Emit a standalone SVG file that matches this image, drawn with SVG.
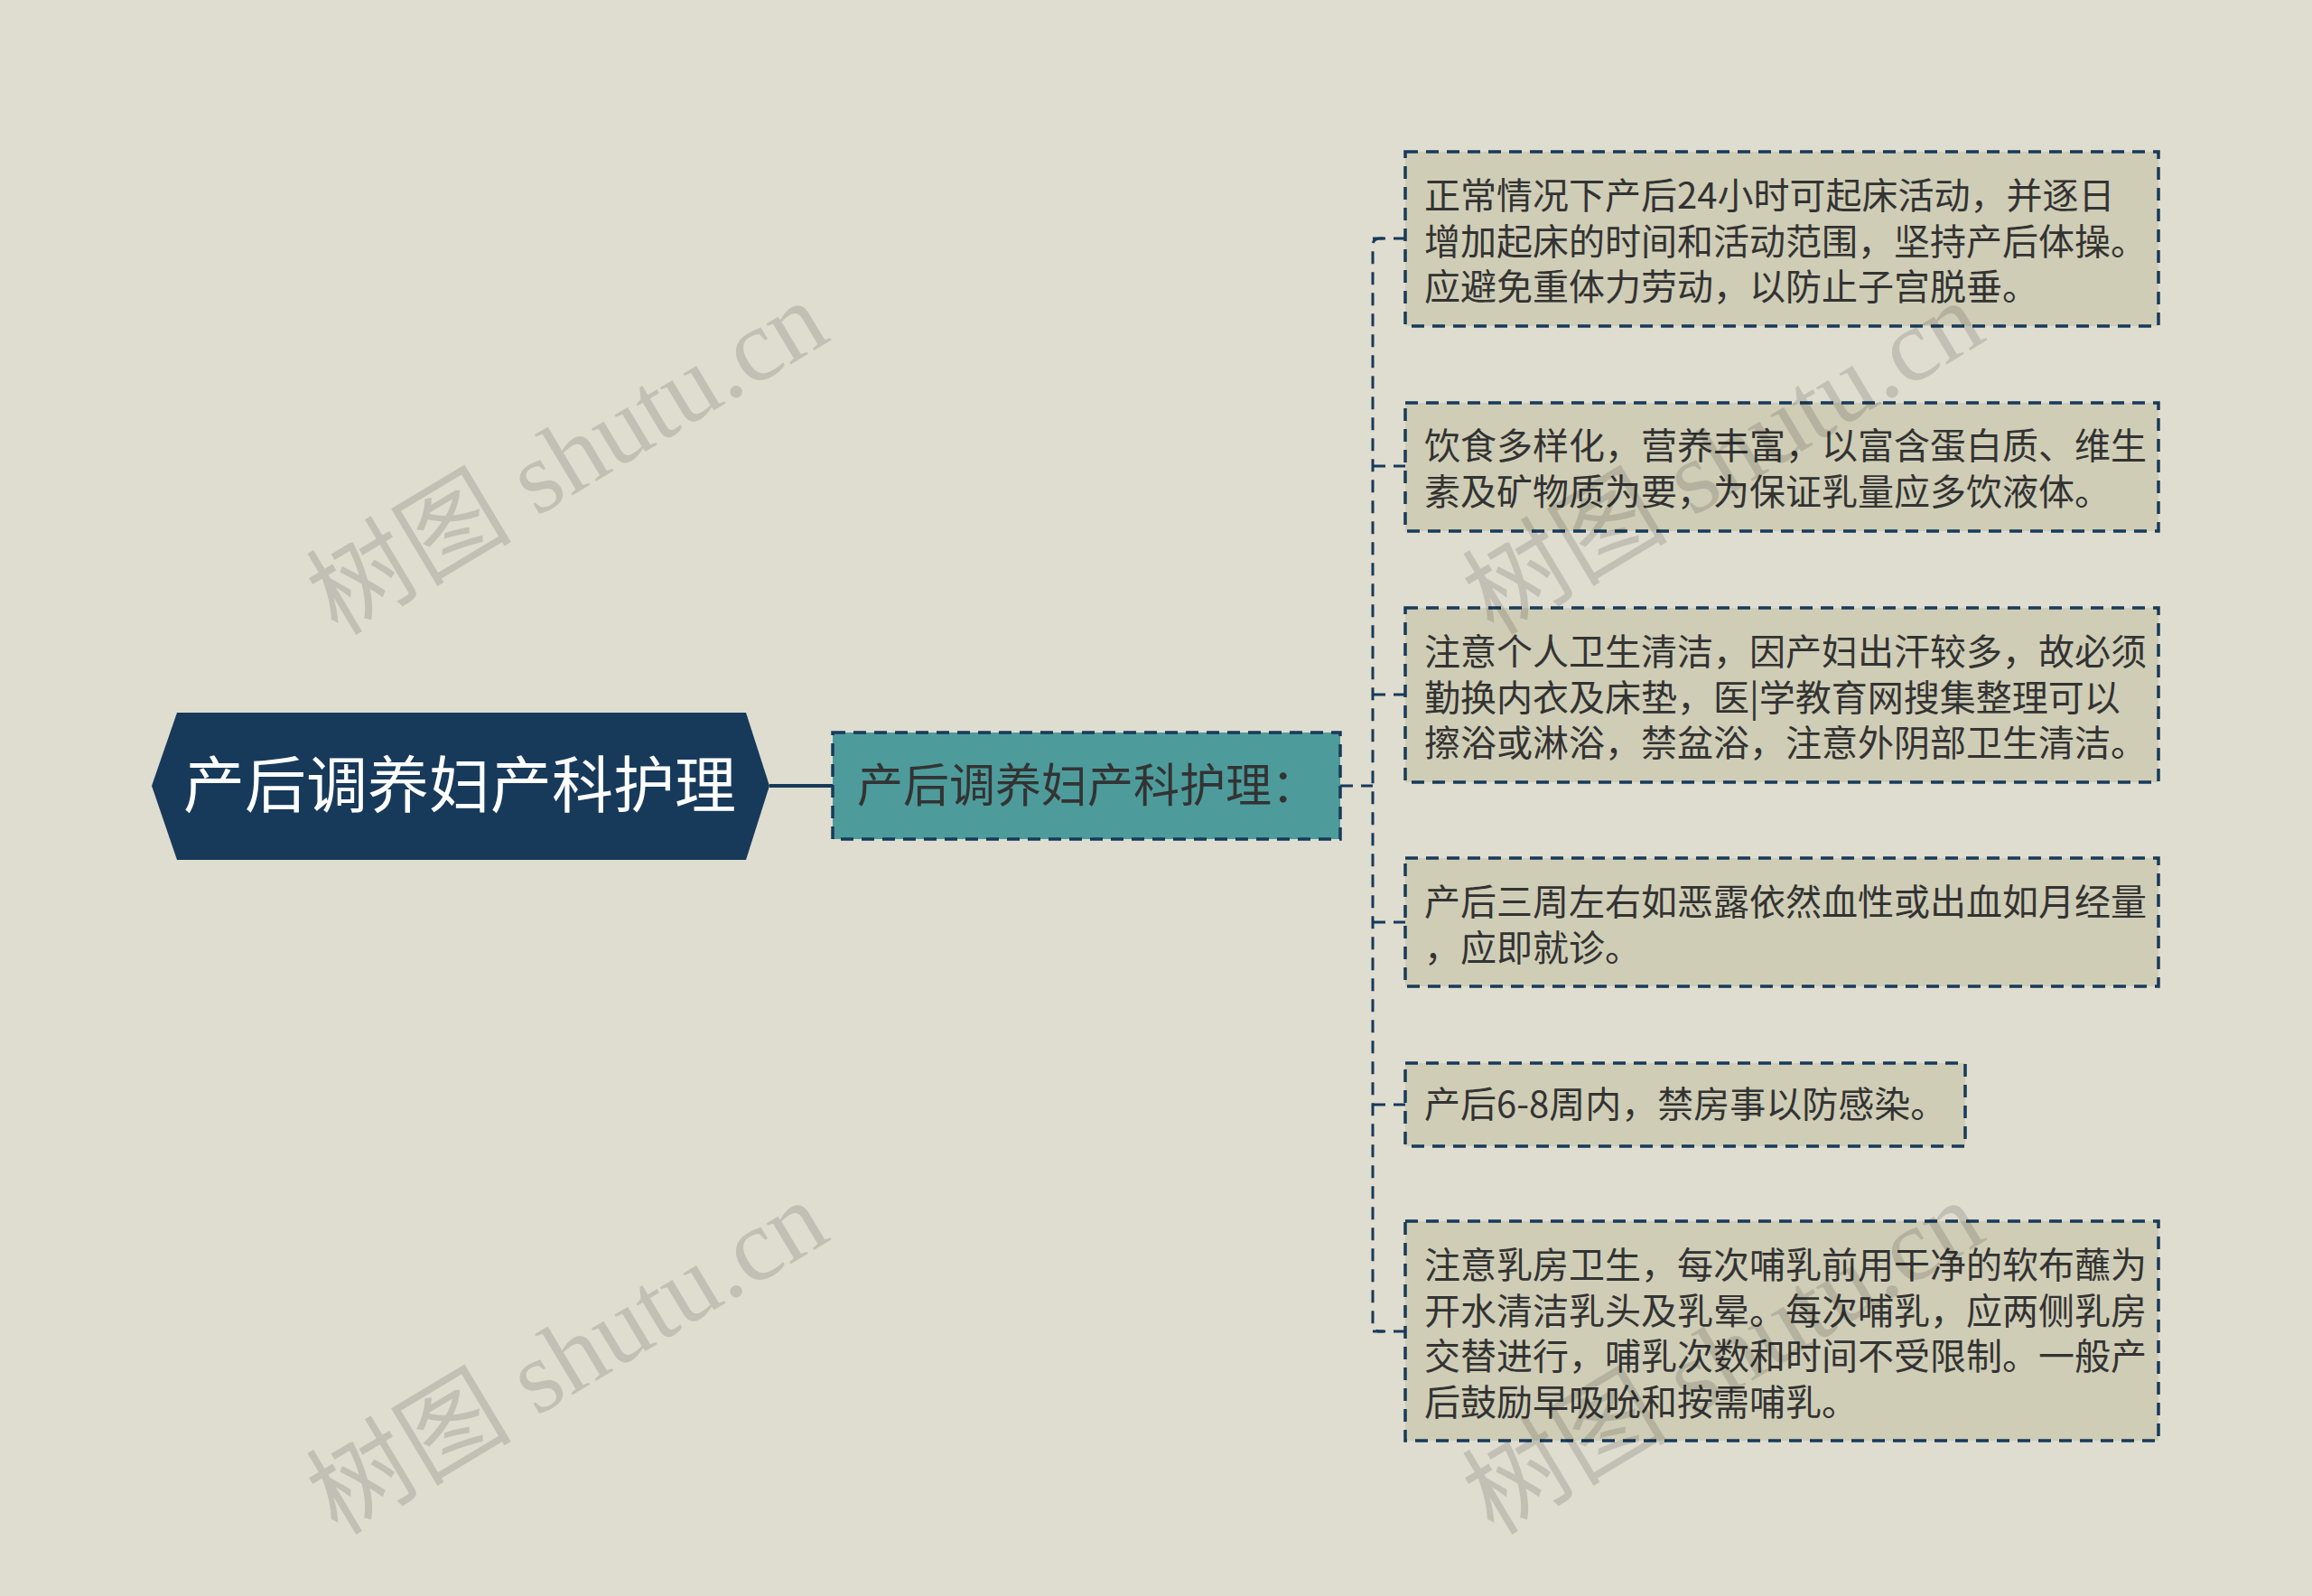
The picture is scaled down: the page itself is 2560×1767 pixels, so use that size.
<svg xmlns="http://www.w3.org/2000/svg" width="2560" height="1767" viewBox="0 0 2560 1767">
<style>
.bg{fill:#dfddcf}
.root{fill:#173a5b}
.rt{font-family:"Noto Sans CJK SC","Noto Sans",sans-serif;font-size:68px;fill:#ffffff}
.sub{fill:#4e9b9b;stroke:#173a5b;stroke-width:3.5;stroke-dasharray:14 9}
.st{font-family:"Noto Sans CJK SC","Noto Sans",sans-serif;font-size:51px;fill:#333333}
.leaf{fill:#cfcdb6;stroke:#173a5b;stroke-width:3.5;stroke-dasharray:14 9}
.lt{font-family:"Noto Sans CJK SC","Noto Sans",sans-serif;font-size:40px;fill:#333333}
.dash{fill:none;stroke:#173a5b;stroke-width:3;stroke-dasharray:14 9}
.solid{fill:none;stroke:#173a5b;stroke-width:4}
.wm{font-family:"Liberation Serif","Noto Sans CJK SC",serif;font-size:114px;fill:#000000;fill-opacity:0.13}
</style>
<rect class="bg" x="0" y="0" width="2560" height="1767"/>
<g id="connectors">
<line class="solid" x1="852" y1="870" x2="922" y2="870"/>
<line class="dash" x1="1484" y1="870" x2="1520" y2="870"/>
<path class="dash" d="M1532 264 H1528 Q1520 264 1520 272 V1466 Q1520 1474 1528 1474 H1532"/>
<line class="dash" x1="1520" y1="264" x2="1556" y2="264"/>
<line class="dash" x1="1520" y1="516" x2="1556" y2="516"/>
<line class="dash" x1="1520" y1="769" x2="1556" y2="769"/>
<line class="dash" x1="1520" y1="1021" x2="1556" y2="1021"/>
<line class="dash" x1="1520" y1="1223" x2="1556" y2="1223"/>
<line class="dash" x1="1520" y1="1474" x2="1556" y2="1474"/>
</g>
<g id="root">
<polygon class="root" points="168,870 196,789 826,789 852,870 826,952 196,952"/>
<text class="rt" x="509" y="894" text-anchor="middle">产后调养妇产科护理</text>
</g>
<g id="sub">
<rect class="sub" x="922" y="811" width="562" height="118"/>
<text class="st" x="949" y="888">产后调养妇产科护理：</text>
</g>
<g id="leaf1">
<rect class="leaf" x="1556" y="168" width="834" height="193"/>
<text class="lt" x="1577" y="231">正常情况下产后24小时可起床活动，并逐日</text>
<text class="lt" x="1577" y="282">增加起床的时间和活动范围，坚持产后体操。</text>
<text class="lt" x="1577" y="332">应避免重体力劳动，以防止子宫脱垂。</text>
</g>
<g id="leaf2">
<rect class="leaf" x="1556" y="446" width="834" height="142"/>
<text class="lt" x="1577" y="508">饮食多样化，营养丰富，以富含蛋白质、维生</text>
<text class="lt" x="1577" y="559">素及矿物质为要，为保证乳量应多饮液体。</text>
</g>
<g id="leaf3">
<rect class="leaf" x="1556" y="673" width="834" height="193"/>
<text class="lt" x="1577" y="736">注意个人卫生清洁，因产妇出汗较多，故必须</text>
<text class="lt" x="1577" y="787">勤换内衣及床垫，医|学教育网搜集整理可以</text>
<text class="lt" x="1577" y="837">擦浴或淋浴，禁盆浴，注意外阴部卫生清洁。</text>
</g>
<g id="leaf4">
<rect class="leaf" x="1556" y="950" width="834" height="142"/>
<text class="lt" x="1577" y="1013">产后三周左右如恶露依然血性或出血如月经量</text>
<text class="lt" x="1577" y="1064">，应即就诊。</text>
</g>
<g id="leaf5">
<rect class="leaf" x="1556" y="1177" width="620" height="92"/>
<text class="lt" x="1577" y="1237">产后6-8周内，禁房事以防感染。</text>
</g>
<g id="leaf6">
<rect class="leaf" x="1556" y="1352" width="834" height="243"/>
<text class="lt" x="1577" y="1415">注意乳房卫生，每次哺乳前用干净的软布蘸为</text>
<text class="lt" x="1577" y="1466">开水清洁乳头及乳晕。每次哺乳，应两侧乳房</text>
<text class="lt" x="1577" y="1516">交替进行，哺乳次数和时间不受限制。一般产</text>
<text class="lt" x="1577" y="1567">后鼓励早吸吮和按需哺乳。</text>
</g>
<g id="watermarks">
<text class="wm" x="648" y="540" text-anchor="middle" transform="rotate(-31 648 540)">树图 shutu.cn</text>
<text class="wm" x="648" y="1536" text-anchor="middle" transform="rotate(-31 648 1536)">树图 shutu.cn</text>
<text class="wm" x="1928" y="540" text-anchor="middle" transform="rotate(-31 1928 540)">树图 shutu.cn</text>
<text class="wm" x="1928" y="1536" text-anchor="middle" transform="rotate(-31 1928 1536)">树图 shutu.cn</text>
</g>
</svg>
